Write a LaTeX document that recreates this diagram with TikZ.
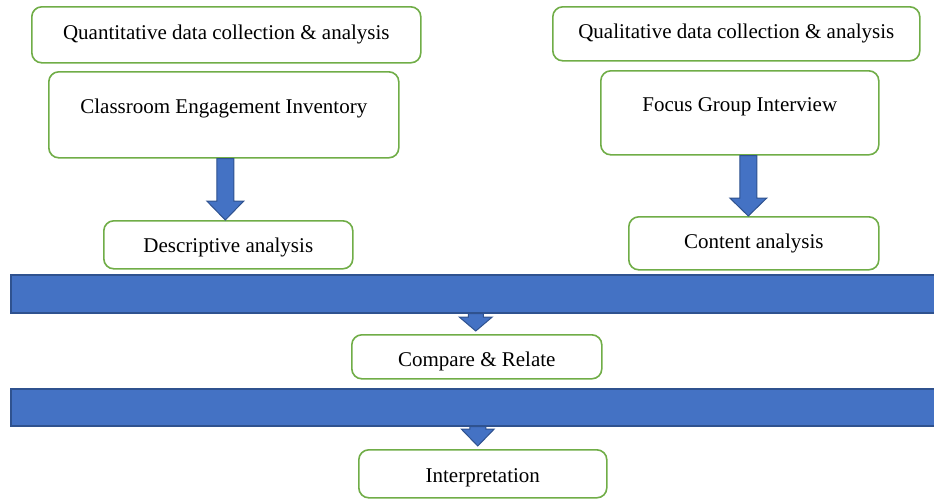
\documentclass[tikz,border=0pt]{standalone}
\usepackage{fontspec}
\setmainfont{Liberation Serif}
\usepackage{xcolor}
\usetikzlibrary{
		calc,
		positioning
	}
\definecolor{boxgreen}{HTML}{70AD47}
\definecolor{bandblue}{HTML}{4472C4}
\definecolor{banddark}{HTML}{2F528F}
\tikzset{
		stepbox/.style={draw=boxgreen,line width=1.6pt,rounded corners=10pt,fill=white,
			inner sep=0pt,anchor=north west,font=\fontsize{21}{24}\selectfont},
		band/.style={draw=banddark,line width=1.5pt,fill=bandblue,inner sep=0pt,anchor=north west},
		fatarrow/.style={draw=banddark,line width=1pt,fill=bandblue}
	}
% block arrow pointing down: from, to, half stem, half head, head length
\newcommand{\blockdown}[5]{%
  \draw[fatarrow] ($(#1)+(-#3,0)$) -- ($(#1 |- #2)+(-#3,-#5)$) -- ($(#1 |- #2)+(-#4,-#5)$)
    -- (#1 |- #2) -- ($(#1 |- #2)+(#4,-#5)$) -- ($(#1 |- #2)+(#3,-#5)$) -- ($(#1)+(#3,0)$) -- cycle;}

\begin{document}
\begin{tikzpicture}[x=1pt,y=-1pt]
          \useasboundingbox (0,0) rectangle (934,499);

          % quantitative strand
          \node[stepbox,minimum width=389pt,minimum height=56pt] (quant) at (31,6) {Quantitative data collection \& analysis};
          \node[stepbox,minimum width=350pt,text height=42pt,text depth=44pt] (cei) at (48,71) {Classroom Engagement Inventory};
          \node[stepbox,minimum width=249pt,text height=31.5pt,text depth=16.5pt] (desc) at (103,220) {Descriptive analysis};

          % qualitative strand
          \node[stepbox,minimum width=367pt,minimum height=54pt] (qual) at (552,6) {Qualitative data collection \& analysis};
          \node[stepbox,minimum width=278pt,text height=41pt,text depth=43pt] (focus) at (600,70) {Focus Group Interview};
          \node[stepbox,minimum width=250pt,minimum height=53pt] (content) at (628,216) {Content analysis};

          % merging
          \node[band,minimum width=930pt,minimum height=38pt] (mergeA) at (10,274) {};
          \node[stepbox,minimum width=250pt,text height=32pt,text depth=12pt] (compare) at (351,334) {Compare \& Relate};
          \node[band,minimum width=930pt,minimum height=37pt] (mergeB) at (10,388) {};
          \node[stepbox,minimum width=248pt,text height=32.5pt,text depth=15.5pt] (interp) at (358,449) {Interpretation};

          % arrow ends
          \coordinate (ceiout) at ([xshift=1.5pt]cei.south);
          \coordinate (focusout) at ([xshift=8.5pt]focus.south);
          \coordinate (mergeBout) at ([xshift=2pt]mergeB.south);
          \coordinate (comparein) at ([yshift=3pt]compare.north);
          \coordinate (interpin) at ([yshift=3pt]interp.north);

          \blockdown{ceiout}{desc.north}{8.5}{18.5}{19}
          \blockdown{focusout}{content.north}{8.5}{18.5}{18}
          \blockdown{mergeA.south}{comparein}{7.5}{16.5}{14}
          \blockdown{mergeBout}{interpin}{8}{16.5}{17}

\end{tikzpicture}
\end{document}
